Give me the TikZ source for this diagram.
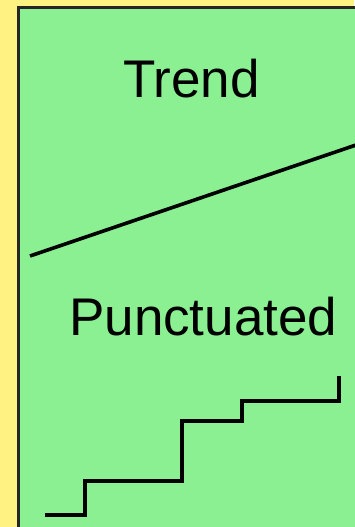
\documentclass[tikz,border=0pt]{standalone}
\usepackage{fontspec}
\setmainfont{Liberation Sans}
\definecolor{bgyellow}{RGB}{255,242,130}
\definecolor{panelgreen}{RGB}{138,240,146}
\tikzset{
  panel/.style={fill=panelgreen, draw=black!85, line width=3pt},
  curve/.style={draw=black, line width=3.6pt, line join=miter},
  label/.style={font=\fontsize{53}{57}\selectfont, inner sep=0pt, anchor=base west}
}
\begin{document}
\begin{tikzpicture}[x=1pt,y=-1pt]
\useasboundingbox (0,0) rectangle (354,527);
\fill[bgyellow] (0,0) rectangle (354,527);
\path[panel] (18,8) rectangle (370,545);
\node[label] (trend) at (123,97) {Trend};
\coordinate (t1) at (30,256);
\coordinate (t2) at (356,145);
\draw[curve] (t1) -- (t2);
\node[label] (punct) at (69,335) {Punctuated};
\coordinate (s0) at (45,515);
\coordinate (s1) at (85,515);
\coordinate (s2) at (85,481);
\coordinate (s3) at (182,481);
\coordinate (s4) at (182,421);
\coordinate (s5) at (242,421);
\coordinate (s6) at (242,401);
\coordinate (s7) at (339,401);
\coordinate (s8) at (339,376);
\draw[curve] (s0) -- (s1) -- (s2) -- (s3) -- (s4) -- (s5) -- (s6) -- (s7) -- (s8);
\end{tikzpicture}
\end{document}
